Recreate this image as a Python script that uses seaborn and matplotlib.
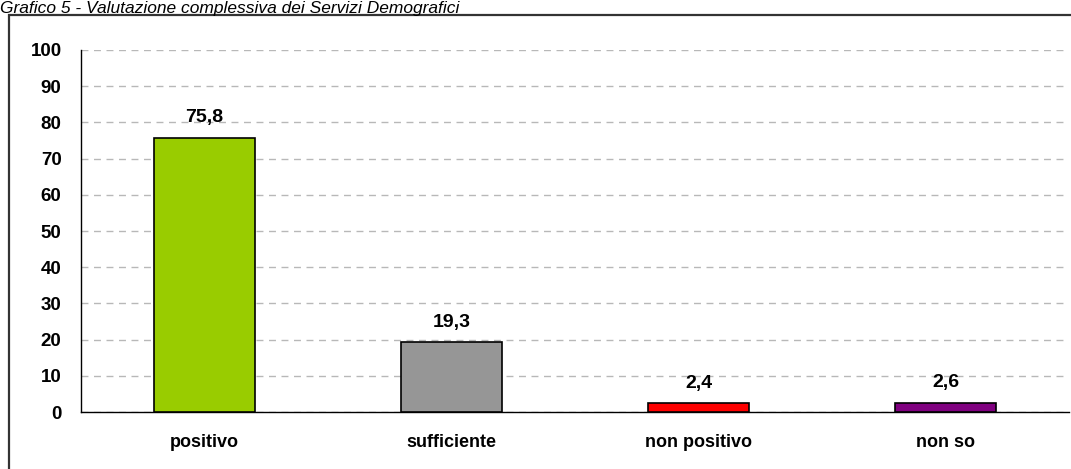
import matplotlib.pyplot as plt
import seaborn as sns
import pandas as pd
from matplotlib.patches import Rectangle

# data
categories = ['positivo', 'sufficiente', 'non positivo', 'non so']
values = [75.8, 19.3, 2.4, 2.6]
value_labels = ['75,8', '19,3', '2,4', '2,6']
colors = ['#99CC00', '#969696', '#FF0000', '#800080']
yticks = list(range(0, 101, 10))

df = pd.DataFrame({'cat': categories, 'val': values})

sns.set_style('white')
plt.rcParams['font.family'] = ['Liberation Sans', 'DejaVu Sans']
plt.rcParams['text.color'] = 'black'
plt.rcParams['xtick.color'] = 'black'
plt.rcParams['ytick.color'] = 'black'

fig = plt.figure(figsize=(10.71, 4.69), dpi=100)
W, H = 1071, 469

# title (cut at the top in the source; kept just inside here)
fig.text(0.0, 1 - 12.5 / H, 'Grafico 5 - Valutazione complessiva dei Servizi Demografici',
         fontsize=12.5, style='italic', ha='left', va='baseline')

# outer frame
fig.patches.append(Rectangle((9 / W, -0.1), 1.2, 1 - 15 / H + 0.1, transform=fig.transFigure,
                             fill=False, edgecolor='#333333', linewidth=1.6, zorder=0))

ax = fig.add_axes([81 / W, 1 - 412 / H, (1069 - 81) / W, (412 - 50) / H])
sns.barplot(data=df, x='cat', y='val', hue='cat', palette=colors, legend=False,
            width=0.41, edgecolor='black', linewidth=1.2, saturation=1, ax=ax, zorder=3)

ax.set_xlim(-0.5, 3.5)
ax.set_ylim(0, 100)
ax.set_yticks(yticks)
ax.set_yticklabels([str(t) for t in yticks], fontsize=13.5, fontweight='bold')
ax.yaxis.grid(True, linestyle=(0, (5, 4)), color='#b8b8b8', linewidth=1, zorder=0)
ax.set_axisbelow(True)

# category labels and boundary ticks on x axis
ax.set_xticks(range(len(categories)))
ax.set_xticklabels(categories, fontsize=13, fontweight='bold')
ax.tick_params(axis='x', length=0, pad=16)
ax.set_xticks([-0.5, 0.5, 1.5, 2.5, 3.5], minor=True)
ax.tick_params(axis='x', which='minor', length=5, width=1, color='black', direction='out')
ax.tick_params(axis='y', length=6, width=1, color='black', direction='out', pad=8)

ax.set_xlabel('')
ax.set_ylabel('')
for s in ['top', 'right']:
    ax.spines[s].set_visible(False)
ax.spines['left'].set_color('black')
ax.spines['bottom'].set_color('black')
ax.spines['left'].set_linewidth(1)
ax.spines['bottom'].set_linewidth(1)

for i, (v, lab) in enumerate(zip(values, value_labels)):
    ax.annotate(lab, (i, v), xytext=(0, 8), textcoords='offset points',
                ha='center', va='bottom', fontsize=14, fontweight='bold', color='black')

fig.savefig('out.png', dpi=100)
